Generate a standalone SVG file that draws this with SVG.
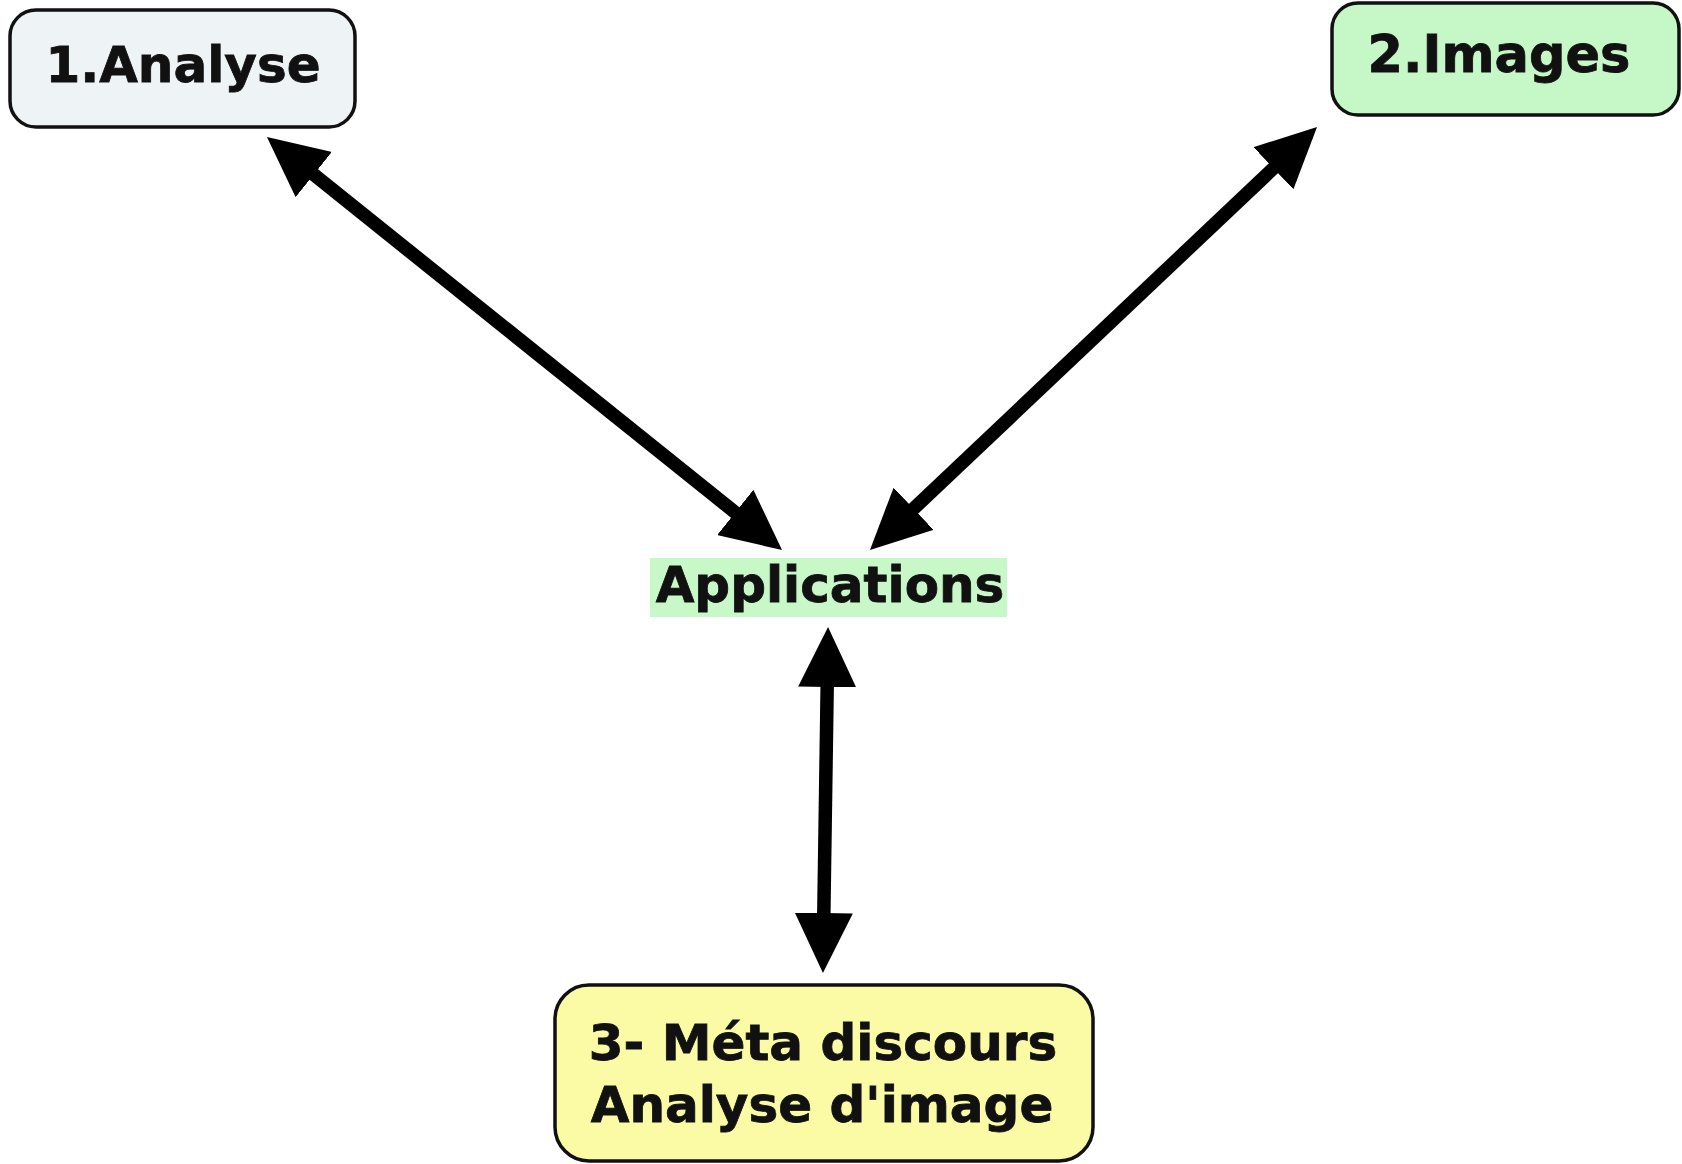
<svg xmlns="http://www.w3.org/2000/svg" width="1682" height="1164" viewBox="0 0 1682 1164">
<style>
.box{stroke:#111;stroke-width:3.5}
.lbl{font-family:"DejaVu Sans","Liberation Sans",sans-serif;font-weight:bold;fill:#111;stroke:#111;stroke-width:0.8;text-anchor:middle}
.conn{stroke:#000;stroke-width:13.5;fill:none;marker-start:url(#ah);marker-end:url(#ah)}
</style>
<defs>
<marker id="ah" markerUnits="userSpaceOnUse" viewBox="0 0 60 58" markerWidth="60" markerHeight="58" refX="2" refY="29" orient="auto-start-reverse">
<path d="M0,0 L60,29 L0,58 Z" fill="#000"/>
</marker>
</defs>
<rect width="1682" height="1164" fill="#fff"/>
<g id="connectors">
<line class="conn" x1="312.2" y1="173.3" x2="736.8" y2="513.7"/>
<line class="conn" x1="1274.9" y1="166.9" x2="912.1" y2="510.1"/>
<line class="conn" x1="827.2" y1="685" x2="823.8" y2="915"/>
</g>
<g id="node-analyse">
<rect class="box" x="10" y="10" width="345" height="117" rx="26" fill="#eef3f6"/>
<text class="lbl" x="183" y="82" font-size="50">1.Analyse</text>
</g>
<g id="node-images">
<rect class="box" x="1332" y="3" width="347" height="112" rx="26" fill="#c6f7c6"/>
<text class="lbl" x="1499" y="72" font-size="51">2.Images</text>
</g>
<g id="node-applications">
<rect x="650" y="558" width="357" height="59" fill="#c8f7c8"/>
<text class="lbl" x="830" y="602" font-size="50">Applications</text>
</g>
<g id="node-meta">
<rect class="box" x="555" y="985" width="538" height="176" rx="34" fill="#fbfaa5"/>
<text class="lbl" x="823" y="1060" font-size="50">3- Méta discours</text>
<text class="lbl" x="822" y="1122" font-size="50">Analyse d'image</text>
</g>
</svg>
